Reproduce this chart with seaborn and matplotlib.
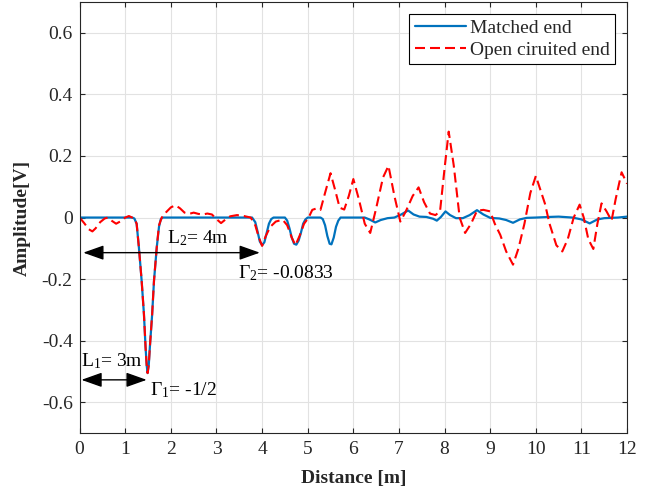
import matplotlib
matplotlib.use("Agg")
import matplotlib.pyplot as plt
import seaborn as sns

# Curva com terminacao casada
dist_matched = [0.0, 1.15, 1.2, 1.25, 1.3, 1.36, 1.41, 1.445, 1.47, 1.49, 1.515, 1.54, 1.59, 1.63, 1.69, 1.74, 1.78, 1.82,
                3.78, 3.85, 3.9, 3.95, 4.0, 4.05, 4.1, 4.15, 4.2, 4.25,
                4.5, 4.55, 4.6, 4.65, 4.7, 4.75, 4.8, 4.85, 4.9, 4.95, 5.0,
                5.28, 5.33, 5.38, 5.43, 5.48, 5.52, 5.57, 5.62, 5.67, 5.72,
                6.25, 6.35, 6.48, 6.6, 6.75, 6.9, 7.05, 7.2, 7.32, 7.45, 7.6, 7.75, 7.83, 7.92,
                8.02, 8.12, 8.25, 8.4, 8.55, 8.71, 8.85, 9.0, 9.2, 9.35, 9.5, 9.65, 9.8, 10.0,
                10.3, 10.5, 10.8, 11.0, 11.18, 11.35, 11.5, 11.8, 12.0]
amp_matched = [0.0, 0.0, -0.003, -0.02, -0.098, -0.206, -0.314, -0.42, -0.48, -0.505, -0.48, -0.42, -0.314, -0.206, -0.098, -0.03, -0.005, 0.0,
               0.0, -0.015, -0.045, -0.078, -0.09, -0.08, -0.05, -0.02, -0.005, 0.0,
               0.0, -0.01, -0.035, -0.065, -0.085, -0.088, -0.075, -0.05, -0.02, -0.006, 0.0,
               0.0, -0.005, -0.025, -0.06, -0.085, -0.087, -0.065, -0.03, -0.01, 0.0,
               0.0, -0.006, -0.016, -0.008, -0.002, 0.0, 0.01, 0.023, 0.01, 0.003, 0.002, -0.004, -0.01, 0.002,
               0.02, 0.008, -0.002, -0.002, 0.008, 0.024, 0.01, -0.001, -0.003, -0.008, -0.017, -0.006, -0.001, 0.0,
               0.002, 0.003, 0.0, -0.006, -0.019, -0.006, -0.002, 0.0, 0.003]

# Curva com terminacao em circuito aberto
dist_open = [0.0, 0.1, 0.2, 0.28, 0.35, 0.45, 0.55, 0.62, 0.7, 0.8, 0.9, 1.0, 1.08, 1.15,
             1.2, 1.25, 1.3, 1.36, 1.41, 1.445, 1.47, 1.49, 1.515, 1.54, 1.59, 1.63, 1.69, 1.74,
             1.8, 1.9, 2.0, 2.1, 2.2, 2.3, 2.4, 2.5, 2.6, 2.7, 2.8, 2.9, 3.0, 3.1, 3.2, 3.3, 3.45, 3.6, 3.75,
             3.85, 3.93, 4.0, 4.08, 4.18, 4.3, 4.45, 4.55, 4.65, 4.73, 4.82, 4.92, 5.02,
             5.1, 5.2, 5.28, 5.38, 5.5, 5.6, 5.7, 5.8, 5.9, 6.0, 6.12, 6.25, 6.37, 6.5, 6.65, 6.77,
             6.9, 7.03, 7.15, 7.3, 7.43, 7.55, 7.68, 7.8, 7.9, 8.0, 8.09, 8.2, 8.33, 8.45, 8.58,
             8.71, 8.85, 9.0, 9.1, 9.22, 9.35, 9.5, 9.62, 9.75, 9.88, 10.0, 10.1, 10.2, 10.3,
             10.45, 10.58, 10.7, 10.83, 10.96, 11.05, 11.15, 11.26, 11.35, 11.44, 11.55, 11.66,
             11.75, 11.88, 12.0]
amp_open = [0.0, -0.018, -0.038, -0.045, -0.035, -0.015, -0.003, 0.0, -0.01, -0.02, -0.012, 0.0, 0.005, 0.0,
            -0.003, -0.02, -0.098, -0.206, -0.314, -0.42, -0.48, -0.505, -0.48, -0.42, -0.314, -0.206, -0.098, -0.025,
            0.0, 0.018, 0.033, 0.04, 0.03, 0.016, 0.012, 0.016, 0.012, 0.01, 0.013, 0.01, -0.005, -0.018, -0.006, 0.004, 0.008, 0.005, 0.0,
            -0.025, -0.065, -0.092, -0.06, -0.03, -0.013, -0.007, -0.025, -0.065, -0.09, -0.06, -0.02, 0.0,
            0.025, 0.03, 0.025, 0.08, 0.144, 0.09, 0.032, 0.026, 0.07, 0.125, 0.06, -0.02, -0.05, 0.03, 0.13, 0.168,
            0.07, -0.013, 0.02, 0.07, 0.098, 0.05, 0.013, 0.008, 0.02, 0.16, 0.279, 0.17, 0.0, -0.05, -0.02,
            0.022, 0.025, 0.02, -0.02, -0.056, -0.11, -0.153, -0.1, -0.02, 0.08, 0.135, 0.09, 0.045, -0.02,
            -0.09, -0.11, -0.07, 0.0, 0.042, 0.0, -0.07, -0.102, -0.02, 0.046, 0.02, -0.01,
            0.06, 0.147, 0.11]

x_ticks = list(range(0, 13))
y_ticks = [-0.6, -0.4, -0.2, 0, 0.2, 0.4, 0.6]
y_tick_labels = ["-0.6", "-0.4", "-0.2", "0", "0.2", "0.4", "0.6"]

sns.set_theme(style="whitegrid")
plt.rcParams["font.family"] = ["Liberation Serif", "DejaVu Serif"]
plt.rcParams["mathtext.default"] = "regular"
plt.rcParams["axes.unicode_minus"] = False
plt.rcParams["lines.dashed_pattern"] = [4.8, 2.4]

fig = plt.figure(figsize=(6.58, 4.95), dpi=100)
ax = fig.add_axes([0.121, 0.125, 0.832, 0.871])

sns.lineplot(x=dist_matched, y=amp_matched, ax=ax, color="#0072BD", linewidth=1.6, label="Matched end")
sns.lineplot(x=dist_open, y=amp_open, ax=ax, color="red", linewidth=1.5, linestyle="--",
             label="Open ciruited end")

ax.set_xlim(0, 12)
ax.set_ylim(-0.7, 0.7)
ax.set_xticks(x_ticks)
ax.set_yticks(y_ticks)
ax.set_yticklabels(y_tick_labels)
ax.grid(True, color="#e2e2e2", linewidth=0.8)
ax.tick_params(direction="in", length=3.5, width=0.8, bottom=True, left=True, top=True, right=True,
               labelsize=14, colors="#262626")
ax.tick_params(axis="x", pad=6)
ax.tick_params(axis="y", pad=5)
for s in ax.spines.values():
    s.set_visible(True)
    s.set_color("#262626")
    s.set_linewidth(0.8)

ax.set_xlabel("Distance [m]", fontsize=14, fontweight="bold", color="#262626", labelpad=8.5)
ax.set_ylabel("Amplitude[V]", fontsize=14, fontweight="bold", color="#262626", labelpad=7.5)

leg = ax.legend(loc="upper right", fontsize=14, frameon=True, fancybox=False, edgecolor="black",
                framealpha=1, borderpad=0.3, labelspacing=0.2, handlelength=2.6, handletextpad=0.2,
                borderaxespad=0.6)
leg.get_frame().set_linewidth(0.8)

# setas de distancia
arrow = dict(arrowstyle="<|-|>,head_length=0.9,head_width=0.32", color="black", lw=1.0,
             shrinkA=0, shrinkB=0, mutation_scale=14)
ax.annotate("", xy=(0.08, -0.114), xytext=(3.95, -0.114), arrowprops=arrow)
ax.annotate("", xy=(0.04, -0.527), xytext=(1.47, -0.527), arrowprops=arrow)

ax.text(1.92, -0.082, "L$_2$= 4m", fontsize=14, va="baseline", ha="left", color="black")
ax.text(3.47, -0.196, "Γ$_2$= -0.0833", fontsize=14, va="baseline", ha="left", color="black")
ax.text(0.04, -0.484, "L$_1$= 3m", fontsize=14, va="baseline", ha="left", color="black")
ax.text(1.54, -0.576, "Γ$_1$= -1/2", fontsize=14, va="baseline", ha="left", color="black")

fig.savefig("out.png", dpi=100)
